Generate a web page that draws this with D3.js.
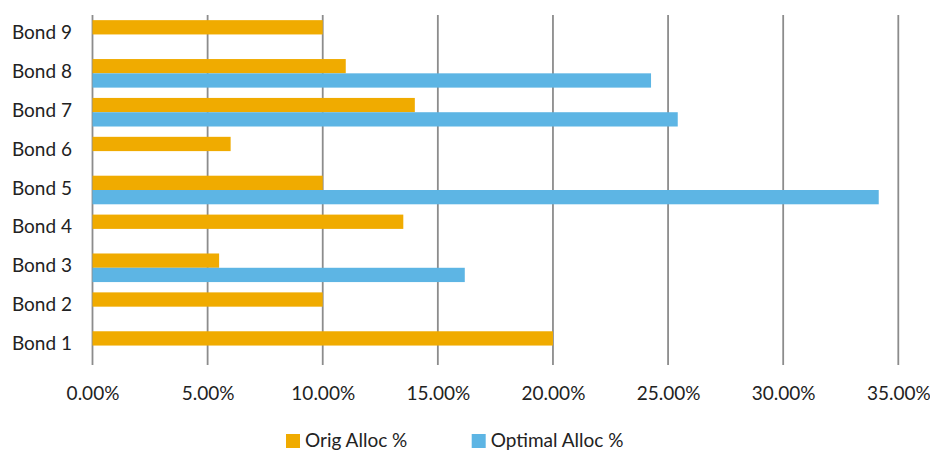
<!DOCTYPE html>
<html><head><meta charset="utf-8">
<script src="https://cdn.jsdelivr.net/npm/d3@7"></script>
<style>html,body{margin:0;padding:0;background:#fff;}svg{display:block;}</style>
</head><body>
<svg id="chart" width="930" height="451"></svg>
<script>
const categories = ["Bond 1","Bond 2","Bond 3","Bond 4","Bond 5","Bond 6","Bond 7","Bond 8","Bond 9"];
const seriesNames = ["Orig Alloc %","Optimal Alloc %"];
const origAlloc = [20, 10, 5.5, 13.5, 10, 6, 14, 11, 10];
const optimalAlloc = [0, 0, 16.17, 0, 34.15, 0, 25.42, 24.26, 0];
const tickValues = [0, 5, 10, 15, 20, 25, 30, 35];
const colors = ["#F0AB00", "#5DB5E4"];

const svg = d3.select("#chart");
const font = "Lato, 'Open Sans', sans-serif";
const plotLeft = 92.5, plotRight = 898.3, plotTop = 15, plotBottom = 365;

const x = d3.scaleLinear().domain([0, 35]).range([plotLeft, plotRight]);
const y = d3.scaleBand().domain(categories.slice().reverse()).range([plotTop, plotBottom]).paddingInner(0.265).paddingOuter(0.1325);
const ySub = d3.scaleBand().domain(seriesNames).range([0, y.bandwidth()]);

// gridlines
svg.append("g").selectAll("line").data(tickValues).join("line")
  .attr("x1", d => x(d)).attr("x2", d => x(d))
  .attr("y1", plotTop).attr("y2", plotBottom)
  .attr("stroke", "#8c8c8c").attr("stroke-width", 1.8);

const data = categories.map((c, i) => ({c, vals: [origAlloc[i], optimalAlloc[i]]}));
const groups = svg.append("g").selectAll("g").data(data).join("g")
  .attr("transform", d => `translate(0,${y(d.c)})`);
groups.selectAll("rect").data(d => d.vals.map((v, j) => ({v, s: seriesNames[j], j})).filter(e => e.v > 0))
  .join("rect")
  .attr("x", x(0)).attr("y", e => ySub(e.s))
  .attr("width", e => x(e.v) - x(0)).attr("height", ySub.bandwidth())
  .attr("fill", e => colors[e.j]);

// x axis labels
const xAxis = d3.axisBottom(x).tickValues(tickValues).tickFormat(d => d3.format(".2f")(d) + "%").tickSize(0).tickPadding(0);
const gx = svg.append("g").attr("transform", `translate(0,386)`).call(xAxis);
gx.select(".domain").remove();
gx.selectAll("text").attr("font-family", font).attr("font-size", 19).attr("fill", "#222").attr("dy", "0.71em");

// y axis labels
const yAxis = d3.axisLeft(y).tickSize(0).tickPadding(20.5);
const gy = svg.append("g").attr("transform", `translate(${plotLeft},-1.5)`).call(yAxis);
gy.select(".domain").remove();
gy.selectAll("text").attr("font-family", font).attr("font-size", 19).attr("fill", "#222");

// legend
const legendX = [286, 471.7];
const lg = svg.append("g").selectAll("g").data(seriesNames).join("g")
  .attr("transform", (d, i) => `translate(${legendX[i]},434)`);
lg.append("rect").attr("width", 14).attr("height", 14).attr("fill", (d, i) => colors[i]);
lg.append("text").attr("x", 19).attr("y", 13).text(d => d)
  .attr("font-family", font).attr("font-size", 19).attr("fill", "#222");
</script>
</body></html>
